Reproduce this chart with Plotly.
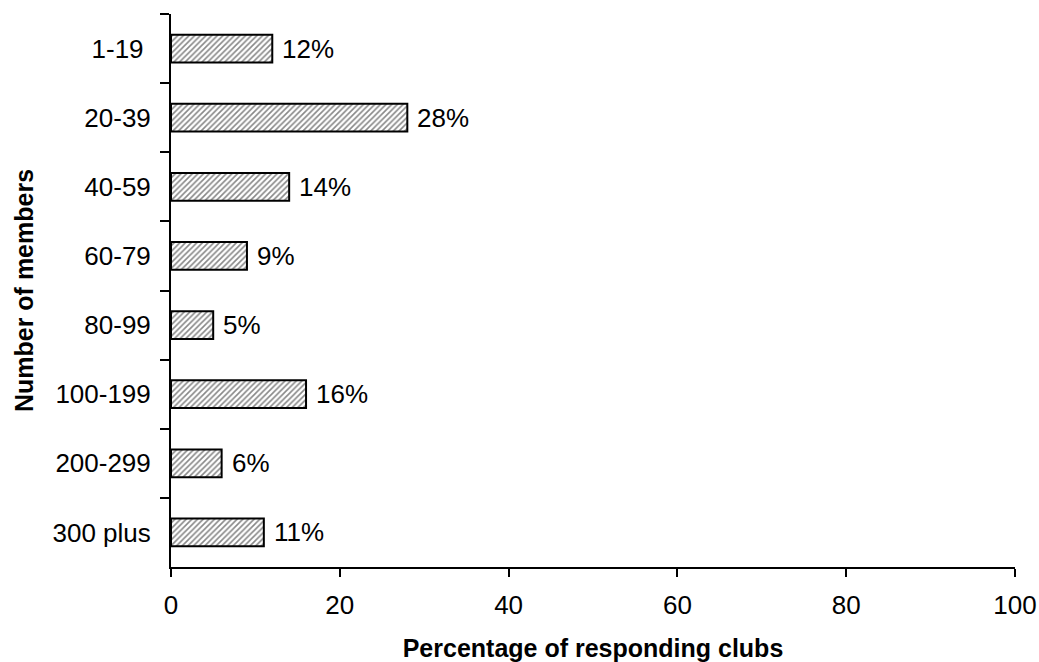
import plotly.graph_objects as go

# Club size bands and share of responding clubs (%)
member_bands = ["1-19 ", "20-39", "40-59", "60-79", "80-99", "100-199", "200-299", "300 plus"]
club_share = [12, 28, 14, 9, 5, 16, 6, 11]
x_ticks = [0, 20, 40, 60, 80, 100]

FONT = "Liberation Sans, Arial, sans-serif"
FS = 26

fig = go.Figure()
fig.add_trace(go.Bar(
    x=club_share,
    y=member_bands,
    orientation="h",
    width=0.4,
    marker=dict(
        color="white",
        line=dict(color="black", width=2),
        pattern=dict(shape="/", size=4, solidity=0.4, fgcolor="#111111", bgcolor="white"),
    ),
    showlegend=False,
    hoverinfo="skip",
))

# Value labels to the right of each bar
for band, val in zip(member_bands, club_share):
    fig.add_annotation(
        x=val, y=band, text=f"{val}%", showarrow=False,
        xanchor="left", xshift=8, font=dict(family=FONT, size=FS, color="black"),
    )

fig.update_layout(
    width=1039, height=662,
    margin=dict(l=171, r=24, t=14, b=95),
    plot_bgcolor="white", paper_bgcolor="white",
    font=dict(family=FONT, size=FS, color="black"),
)
fig.update_xaxes(
    range=[0, 100], tickvals=x_ticks, ticks="outside", ticklen=8, tickwidth=2,
    tickcolor="black", showline=True, linecolor="black", linewidth=2,
    showgrid=False, zeroline=False, automargin=False, ticklabelstandoff=6,
    tickfont=dict(family=FONT, size=FS),
    title=dict(text="<b>Percentage of responding clubs</b>", font=dict(family=FONT, size=25), standoff=26),
)
fig.update_yaxes(
    categoryorder="array", categoryarray=member_bands,
    range=[len(member_bands) - 0.5, -0.5],
    ticks="outside", tickson="boundaries", ticklen=9, tickwidth=2, tickcolor="black",
    showline=True, linecolor="black", linewidth=2, showgrid=False, zeroline=False,
    automargin=False, ticklabelstandoff=13,
    tickfont=dict(family=FONT, size=FS),
    title=dict(text="<b>Number of members</b>", font=dict(family=FONT, size=25), standoff=12),
)

fig.write_html("out.html")
